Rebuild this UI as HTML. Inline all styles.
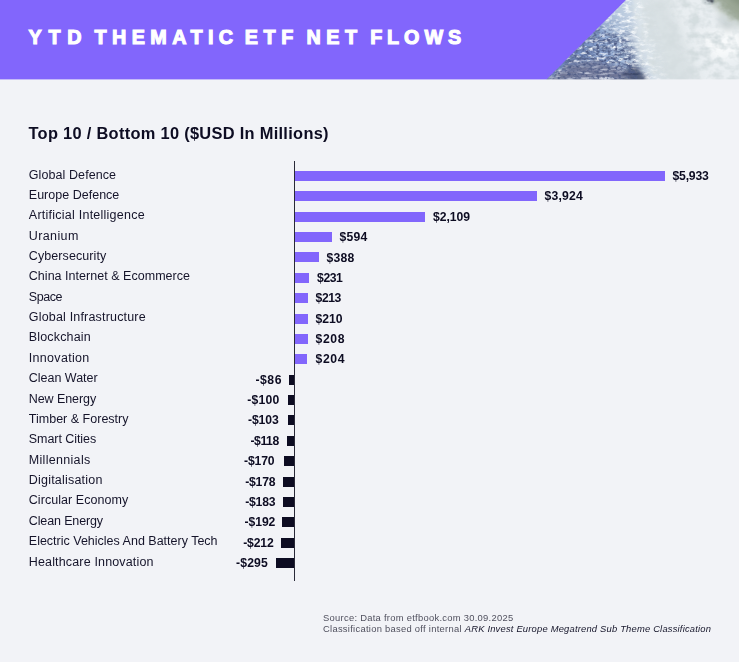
<!DOCTYPE html>
<html lang="en"><head><meta charset="utf-8"><title>YTD Thematic ETF Net Flows</title>
<style>
html,body{margin:0;padding:0}
body{width:739px;height:662px;background:#f2f3f7;position:relative;overflow:hidden;font-family:"Liberation Sans",sans-serif;color:#0d0c22}
.hdr{position:absolute;left:0;top:0;width:739px;height:80px;background:#8266fc;overflow:hidden}
.edge{position:absolute;left:0;top:79px;width:739px;height:1px;background:rgba(242,243,247,0.6)}
.hdr svg{position:absolute;left:0;top:0}
.ttl{position:absolute;left:0;top:24.6px;height:24px;width:540px;font-size:19.8px;line-height:24px;font-weight:bold;color:#fff;white-space:nowrap;-webkit-text-stroke:1.1px #fff}
.tw{position:absolute;top:0}
.sub{position:absolute;left:28.5px;top:123px;font-size:16.4px;line-height:20px;letter-spacing:0.3px;font-weight:bold;white-space:nowrap}
.lb{position:absolute;font-size:12.5px;line-height:18px;white-space:nowrap;color:#15142a}
.bp{position:absolute;height:10px;background:#8266fc}
.bn{position:absolute;height:10px;background:#0d0c22}
.v{position:absolute;font-size:12.2px;line-height:18px;font-weight:bold;white-space:nowrap}
.ax{position:absolute;left:294px;top:161px;width:1px;height:420px;background:#2a2a38}
.src{position:absolute;left:323px;top:611.9px;font-size:9.4px;line-height:11px;letter-spacing:0.28px;color:#50505e;white-space:nowrap}
.src i{color:#15152a;letter-spacing:0.2px}
#wrap{position:absolute;left:0;top:0;width:739px;height:662px;opacity:0.999}
</style></head><body><div id="wrap">
<div class="hdr">
<svg width="739" height="80" viewBox="0 0 739 80">
<defs>
<clipPath id="tri"><polygon points="626,0 739,0 739,80 546,80"/></clipPath>
<filter id="b3" x="-30%" y="-30%" width="160%" height="160%"><feGaussianBlur stdDeviation="3"/></filter>
<filter id="b2" x="-30%" y="-30%" width="160%" height="160%"><feGaussianBlur stdDeviation="2"/></filter>
<filter id="b5" x="-30%" y="-30%" width="160%" height="160%"><feGaussianBlur stdDeviation="5"/></filter>
<filter id="b1" x="-30%" y="-30%" width="160%" height="160%"><feGaussianBlur stdDeviation="1.2"/></filter>
<filter id="nd" filterUnits="userSpaceOnUse" x="540" y="0" width="200" height="80">
<feGaussianBlur in="SourceAlpha" stdDeviation="4" result="m"/>
<feTurbulence type="fractalNoise" baseFrequency="0.11 0.3" numOctaves="3" seed="3"/>
<feColorMatrix type="matrix" values="0 0 0 0 0.12  0 0 0 0 0.17  0 0 0 0 0.32  0 3.2 0 0 -1.27" result="n"/>
<feComposite in="n" in2="m" operator="in"/>
</filter>
<filter id="nw" filterUnits="userSpaceOnUse" x="540" y="0" width="200" height="80">
<feGaussianBlur in="SourceAlpha" stdDeviation="4" result="m"/>
<feTurbulence type="fractalNoise" baseFrequency="0.16 0.3" numOctaves="3" seed="11"/>
<feColorMatrix type="matrix" values="0 0 0 0 0.96  0 0 0 0 0.98  0 0 0 0 1  2.8 0 0 0 -1.3" result="n"/>
<feComposite in="n" in2="m" operator="in"/>
</filter>
<filter id="ng" filterUnits="userSpaceOnUse" x="540" y="0" width="200" height="80">
<feGaussianBlur in="SourceAlpha" stdDeviation="5" result="m"/>
<feTurbulence type="fractalNoise" baseFrequency="0.09 0.12" numOctaves="3" seed="21"/>
<feColorMatrix type="matrix" values="0 0 0 0 0.66  0 0 0 0 0.72  0 0 0 0 0.74  0 0 2.8 0 -1.1" result="n"/>
<feComposite in="n" in2="m" operator="in"/>
</filter>
<filter id="ns" filterUnits="userSpaceOnUse" x="540" y="0" width="200" height="80">
<feGaussianBlur in="SourceAlpha" stdDeviation="2.5" result="m"/>
<feTurbulence type="fractalNoise" baseFrequency="0.07 0.4" numOctaves="2" seed="5"/>
<feColorMatrix type="matrix" values="0 0 0 0 0.16  0 0 0 0 0.18  0 0 0 0 0.3  0 2.6 0 0 -0.95" result="n"/>
<feComposite in="n" in2="m" operator="in"/>
</filter>
<filter id="nl" filterUnits="userSpaceOnUse" x="540" y="0" width="200" height="80">
<feGaussianBlur in="SourceAlpha" stdDeviation="2" result="m"/>
<feTurbulence type="fractalNoise" baseFrequency="0.06 0.35" numOctaves="2" seed="9"/>
<feColorMatrix type="matrix" values="0 0 0 0 0.8  0 0 0 0 0.84  0 0 0 0 0.92  2.6 0 0 0 -1.25" result="n"/>
<feComposite in="n" in2="m" operator="in"/>
</filter>
<filter id="nk" filterUnits="userSpaceOnUse" x="540" y="0" width="200" height="80">
<feGaussianBlur in="SourceAlpha" stdDeviation="3" result="m"/>
<feTurbulence type="fractalNoise" baseFrequency="0.28 0.38" numOctaves="2" seed="17"/>
<feColorMatrix type="matrix" values="0 0 0 0 0.08  0 0 0 0 0.11  0 0 0 0 0.24  0 0 3.4 0 -1.58" result="n"/>
<feComposite in="n" in2="m" operator="in"/>
</filter>
<linearGradient id="gm" gradientUnits="userSpaceOnUse" x1="580" y1="60" x2="680" y2="29.6">
<stop offset="0" stop-color="#7088ba"/><stop offset="0.25" stop-color="#8aa3cf"/><stop offset="0.4" stop-color="#a6bbda"/><stop offset="0.5" stop-color="#c2cfdf"/><stop offset="0.65" stop-color="#dce5ec"/><stop offset="0.85" stop-color="#e9eff2"/><stop offset="1" stop-color="#e9eef1"/></linearGradient>
</defs>
<g clip-path="url(#tri)">
<rect x="540" y="0" width="200" height="80" fill="url(#gm)"/>
<polygon points="716,14 748,30 748,60 730,44" fill="#c3ccce" filter="url(#b3)"/>
<polygon points="703,-6 748,-6 748,30 728,17" fill="#9aa694" filter="url(#b3)"/>
<polygon points="724,-6 748,-6 748,12" fill="#8a9784" filter="url(#b2)"/>
<polygon points="700,36 745,26 745,54 716,60" fill="#f8fafb" filter="url(#b5)"/>
<ellipse cx="709" cy="1" rx="5" ry="2.5" fill="#1e2430" filter="url(#b1)"/>
<polygon points="538,85 604,19 626,24 647,85" filter="url(#nd)"/>
<polygon points="600,26 627,-2 632,-2 634,30 618,40" fill="#b4c6de" opacity="0.55" filter="url(#b2)"/>
<polygon points="538,85 627,-5 644,-5 676,85" filter="url(#nw)"/>
<polygon points="640,-5 668,-5 700,85 660,85" fill="#c9d3d6" opacity="0.5" filter="url(#b5)"/>
<polygon points="628,-5 710,-5 745,30 745,85 648,85" filter="url(#ng)"/>
<polygon points="538,90 569,65 600,62 626,70 640,90" fill="#737a9b" opacity="0.88" filter="url(#b2)"/>
<polygon points="622,72 636,66 646,78 644,90 624,90" fill="#2f3858" opacity="0.75" filter="url(#b2)"/>
<polygon points="538,90 569,65 600,62 626,70 640,90" filter="url(#ns)"/>
<polygon points="538,90 569,67 600,64 626,72 638,90" filter="url(#nl)"/>
<polygon points="540,86 598,28 622,36 634,60 644,86" filter="url(#nk)"/>
</g>
</svg>

<div class="ttl"><span class="tw" style="left:28.54px;letter-spacing:6.700px">YTD</span> <span class="tw" style="left:94.54px;letter-spacing:5.414px">THEMATIC</span> <span class="tw" style="left:244.64px;letter-spacing:5.710px">ETF</span> <span class="tw" style="left:306.56px;letter-spacing:5.440px">NET</span> <span class="tw" style="left:370.14px;letter-spacing:4.900px">FLOWS</span></div>
</div>
<div class="edge"></div>
<div class="sub">Top 10 / Bottom 10 ($USD In Millions)</div>
<div class="lb" style="top:165.5px;left:28.80px;letter-spacing:0.083px">Global Defence</div>
<div class="bp" style="top:171px;left:294px;width:371px"></div>
<div class="v" style="top:167.0px;left:672.56px;letter-spacing:-0.216px">$5,933</div>
<div class="lb" style="top:185.9px;left:28.80px;letter-spacing:0.014px">Europe Defence</div>
<div class="bp" style="top:191px;left:294px;width:243px"></div>
<div class="v" style="top:187.4px;left:544.56px;letter-spacing:0.180px">$3,924</div>
<div class="lb" style="top:206.2px;left:28.80px;letter-spacing:0.245px">Artificial Intelligence</div>
<div class="bp" style="top:212px;left:294px;width:131px"></div>
<div class="v" style="top:207.7px;left:433.00px;letter-spacing:-0.036px">$2,109</div>
<div class="lb" style="top:226.6px;left:28.80px;letter-spacing:0.390px">Uranium</div>
<div class="bp" style="top:232px;left:294px;width:38px"></div>
<div class="v" style="top:228.1px;left:339.54px;letter-spacing:0.180px">$594</div>
<div class="lb" style="top:247.0px;left:28.80px;letter-spacing:0.090px">Cybersecurity</div>
<div class="bp" style="top:252px;left:294px;width:25px"></div>
<div class="v" style="top:248.5px;left:326.56px;letter-spacing:0.180px">$388</div>
<div class="lb" style="top:267.3px;left:28.80px;letter-spacing:0.029px">China Internet &amp; Ecommerce</div>
<div class="bp" style="top:273px;left:294px;width:15px"></div>
<div class="v" style="top:268.8px;left:317.08px;letter-spacing:-0.450px">$231</div>
<div class="lb" style="top:287.7px;left:28.80px;letter-spacing:-0.450px">Space</div>
<div class="bp" style="top:293px;left:294px;width:14px"></div>
<div class="v" style="top:289.2px;left:315.58px;letter-spacing:-0.450px">$213</div>
<div class="lb" style="top:308.1px;left:28.80px;letter-spacing:0.180px">Global Infrastructure</div>
<div class="bp" style="top:314px;left:294px;width:14px"></div>
<div class="v" style="top:309.6px;left:315.58px;letter-spacing:-0.060px">$210</div>
<div class="lb" style="top:328.4px;left:28.80px;letter-spacing:0.160px">Blockchain</div>
<div class="bp" style="top:334px;left:294px;width:14px"></div>
<div class="v" style="top:329.9px;left:315.58px;letter-spacing:0.600px">$208</div>
<div class="lb" style="top:348.8px;left:28.80px;letter-spacing:0.300px">Innovation</div>
<div class="bp" style="top:354px;left:294px;width:13px"></div>
<div class="v" style="top:350.3px;left:315.58px;letter-spacing:0.600px">$204</div>
<div class="lb" style="top:369.2px;left:28.80px;letter-spacing:-0.018px">Clean Water</div>
<div class="bn" style="top:375px;left:289px;width:5px"></div>
<div class="v" style="top:370.7px;left:255.58px;letter-spacing:0.480px">-$86</div>
<div class="lb" style="top:389.6px;left:28.80px;letter-spacing:-0.080px">New Energy</div>
<div class="bn" style="top:395px;left:288px;width:6px"></div>
<div class="v" style="top:391.1px;left:247.34px;letter-spacing:0.180px">-$100</div>
<div class="lb" style="top:409.9px;left:28.80px;letter-spacing:0.011px">Timber &amp; Forestry</div>
<div class="bn" style="top:415px;left:288px;width:6px"></div>
<div class="v" style="top:411.4px;left:248.04px;letter-spacing:-0.135px">-$103</div>
<div class="lb" style="top:430.3px;left:28.80px;letter-spacing:-0.065px">Smart Cities</div>
<div class="bn" style="top:436px;left:287px;width:7px"></div>
<div class="v" style="top:431.8px;left:250.48px;letter-spacing:-0.450px">-$118</div>
<div class="lb" style="top:450.7px;left:28.80px;letter-spacing:0.306px">Millennials</div>
<div class="bn" style="top:456px;left:284px;width:10px"></div>
<div class="v" style="top:452.2px;left:244.02px;letter-spacing:-0.135px">-$170</div>
<div class="lb" style="top:471.0px;left:28.80px;letter-spacing:0.208px">Digitalisation</div>
<div class="bn" style="top:477px;left:283px;width:11px"></div>
<div class="v" style="top:472.5px;left:245.34px;letter-spacing:-0.270px">-$178</div>
<div class="lb" style="top:491.4px;left:28.80px;letter-spacing:0.048px">Circular Economy</div>
<div class="bn" style="top:497px;left:283px;width:11px"></div>
<div class="v" style="top:492.9px;left:245.34px;letter-spacing:-0.270px">-$183</div>
<div class="lb" style="top:511.8px;left:28.80px;letter-spacing:-0.131px">Clean Energy</div>
<div class="bn" style="top:517px;left:282px;width:12px"></div>
<div class="v" style="top:513.3px;left:244.58px;letter-spacing:-0.090px">-$192</div>
<div class="lb" style="top:532.1px;left:28.80px;letter-spacing:0.000px">Electric Vehicles And Battery Tech</div>
<div class="bn" style="top:538px;left:281px;width:13px"></div>
<div class="v" style="top:533.6px;left:243.24px;letter-spacing:-0.180px">-$212</div>
<div class="lb" style="top:552.5px;left:28.80px;letter-spacing:0.153px">Healthcare Innovation</div>
<div class="bn" style="top:558px;left:276px;width:18px"></div>
<div class="v" style="top:554.0px;left:236.10px;letter-spacing:0.135px">-$295</div>
<div class="ax"></div>
<div class="src">Source: Data from etfbook.com 30.09.2025<br>Classification based off internal <i>ARK Invest Europe Megatrend Sub Theme Classification</i></div>
</div></body></html>
